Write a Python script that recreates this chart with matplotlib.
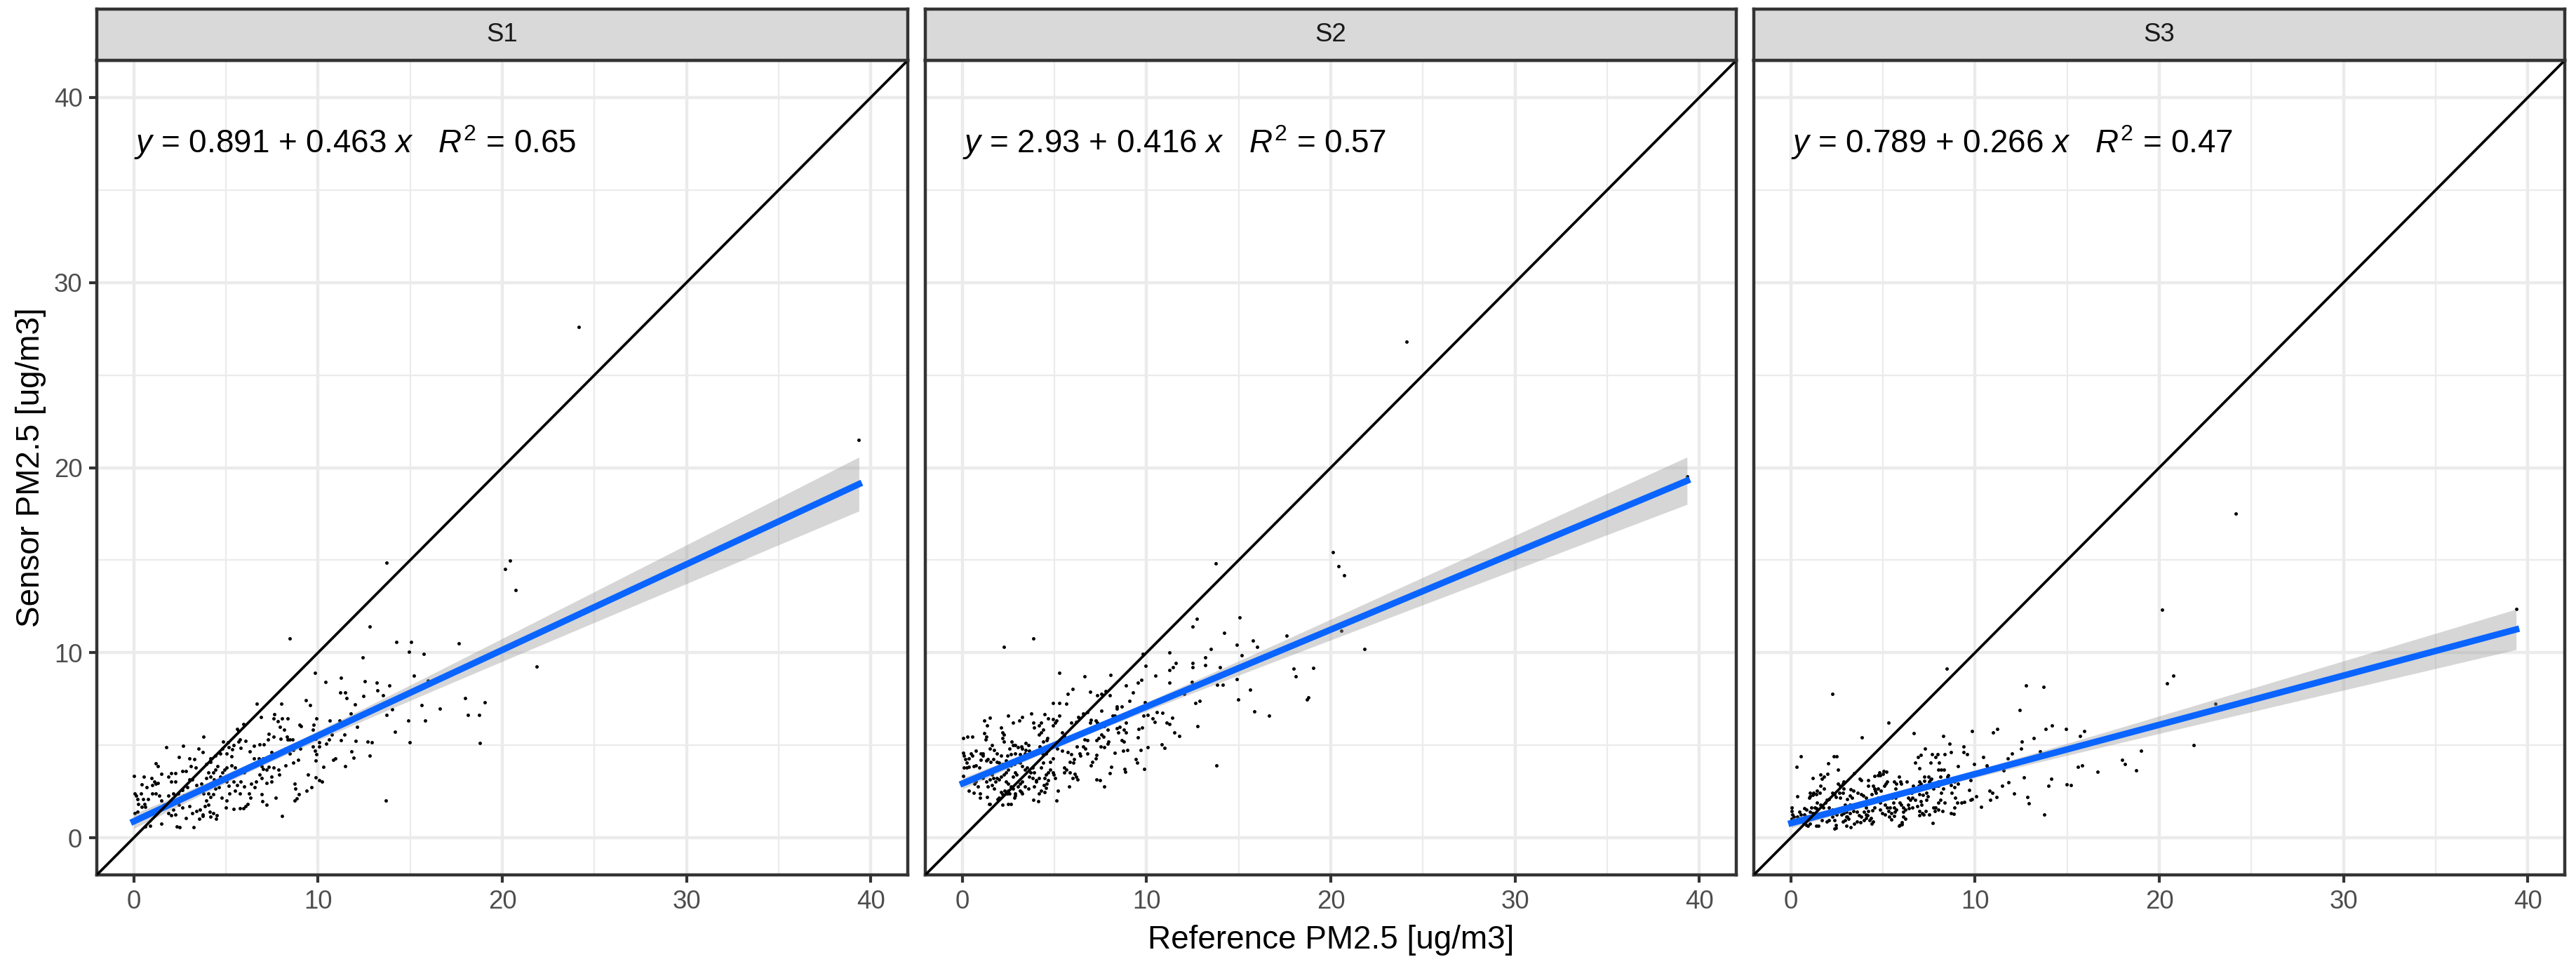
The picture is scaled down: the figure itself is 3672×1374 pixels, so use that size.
import matplotlib.pyplot as plt
import numpy as np

plt.rcParams['font.family'] = ['Liberation Sans', 'DejaVu Sans']
plt.rcParams['mathtext.fontset'] = 'custom'
plt.rcParams['mathtext.rm'] = 'Liberation Sans'
plt.rcParams['mathtext.it'] = 'Liberation Sans:italic'

sensors = ['S1', 'S2', 'S3']
intercepts = ['0.891', '2.93', '0.789']
slopes = ['0.463', '0.416', '0.266']
r_squared = ['0.65', '0.57', '0.47']

# (reference, sensor) pairs
s1_points = [
    (8.48, 10.76), (9.84, 8.92), (10.42, 8.43), (11.23, 8.65), (11.2, 7.84), (11.48, 7.84), (11.56, 7.56),
    (12.44, 9.73), (12.53, 8.46), (13.19, 8.4), (13.22, 7.95), (12.48, 7.66), (11.99, 7.2), (6.67, 7.25),
    (8.01, 7.25), (9.33, 7.44), (9.56, 7.16), (6.9, 6.54), (7.62, 6.69), (7.59, 6.45), (7.82, 6.29),
    (8.06, 6.45), (8.35, 6.45), (7.94, 5.99), (8.16, 5.84), (8.99, 6.12), (9.09, 6.04), (9.91, 6.45),
    (9.75, 6.12), (9.72, 5.86), (10.63, 6.35), (11.18, 6.35), (11.77, 6.73), (12.11, 5.99), (11.43, 5.57),
    (11.24, 5.29), (12.03, 5.23), (12.68, 5.19), (12.91, 5.15), (10.76, 5.57), (10.58, 5.33), (10.44, 5.08),
    (10.82, 4.21), (10.95, 4.28), (11.81, 4.67), (11.94, 4.34), (11.47, 3.88), (12.82, 4.44), (10.29, 3.83),
    (9.86, 3.27), (10.05, 3.12), (10.23, 3.05), (9.65, 2.75), (9.37, 2.56), (8.03, 1.17), (8.73, 2.03),
    (8.86, 2.13), (8.96, 2.35), (8.73, 2.94), (8.77, 2.66), (9.47, 3.43), (9.9, 4.53), (9.82, 4.7),
    (9.72, 4.92), (10.06, 4.95), (9.87, 4.19), (9.89, 5.36), (10.06, 5.15),
    (7.34, 5.61), (7.3, 5.33), (7.59, 5.46), (7.97, 5.36), (8.34, 5.33), (8.48, 5.33), (8.61, 5.33),
    (8.33, 5.46), (7.04, 5.04), (6.52, 4.99), (6.84, 5.05), (6.08, 5.25), (5.67, 5.2), (5.76, 5.33),
    (5.42, 5.0), (5.35, 4.78), (5.15, 4.9), (5.06, 4.56), (5.29, 4.39), (5.8, 4.85), (6.3, 4.67),
    (6.52, 4.31), (6.8, 4.31), (7.03, 4.31), (7.47, 4.63), (8.23, 4.82), (8.67, 4.76), (9.03, 4.82),
    (8.48, 4.54), (8.92, 4.21), (8.65, 4.06), (8.23, 3.93), (7.85, 3.68), (7.59, 3.78), (7.34, 3.83),
    (6.96, 3.87), (7.03, 3.74), (7.22, 3.68), (7.91, 3.43), (7.47, 3.3), (7.47, 3.05), (7.22, 2.98),
    (6.96, 3.24), (6.84, 3.43), (6.65, 3.05), (6.39, 2.92), (6.58, 2.73), (6.16, 3.68), (6.01, 3.53),
    (5.7, 3.55), (5.51, 3.81), (5.32, 3.93), (5.06, 3.81), (4.94, 3.68), (4.81, 3.55), (4.68, 3.3),
    (5.06, 3.05), (5.16, 2.83), (5.44, 3.05), (5.63, 2.86), (5.82, 3.05), (6.01, 2.79), (5.76, 2.41),
    (5.51, 2.54), (5.19, 2.41), (5.04, 2.03), (4.78, 2.16), (5.0, 1.65), (5.44, 1.55), (5.76, 1.59),
    (5.95, 1.59), (6.08, 1.71), (6.2, 1.84), (7.0, 1.97), (7.22, 1.78), (7.72, 2.16), (6.96, 2.35),
    (6.33, 2.16), (6.27, 2.41),
    (0.0, 3.36), (0.54, 3.3), (0.42, 2.89), (0.06, 2.41), (0.13, 2.28), (0.19, 2.09), (0.51, 2.09),
    (0.76, 2.09), (0.25, 1.84), (0.57, 1.84), (0.63, 1.68), (0.42, 1.68), (0.06, 1.33), (0.19, 1.4),
    (0.63, 0.63), (0.89, 0.66), (1.2, 4.04), (1.33, 3.87), (1.77, 4.91), (2.68, 4.99), (1.01, 2.86),
    (1.2, 2.94), (1.33, 2.98), (0.99, 2.41), (1.2, 2.41), (1.39, 2.28), (1.52, 2.03), (1.65, 1.78),
    (1.9, 2.28), (2.15, 2.41), (2.03, 3.05), (2.28, 3.05), (2.03, 3.49), (2.28, 3.49), (1.52, 3.45),
    (1.9, 3.3), (2.66, 3.62), (2.85, 3.62), (2.47, 4.38), (3.04, 4.31), (3.29, 4.25), (3.52, 4.82),
    (3.73, 4.63), (3.8, 5.46), (3.1, 3.87), (3.35, 3.81), (3.04, 3.17), (3.16, 3.17), (3.42, 2.86),
    (3.67, 2.92), (2.66, 2.6), (2.91, 2.73), (2.41, 2.41), (2.72, 2.28), (2.47, 1.78), (2.66, 1.65),
    (3.04, 1.71), (3.16, 1.33), (2.15, 1.52), (2.28, 1.27), (1.9, 1.33), (2.03, 1.21), (1.52, 0.76),
    (2.34, 0.63), (2.51, 0.57), (3.25, 0.57), (2.85, 1.08), (3.42, 1.46), (3.61, 1.52), (3.73, 1.27),
    (3.86, 1.71), (4.05, 1.78), (3.92, 2.03), (4.18, 2.22), (3.8, 2.41), (4.05, 2.41), (4.3, 2.35),
    (4.43, 2.66), (4.62, 2.73), (4.24, 2.92), (4.43, 2.98), (3.92, 3.24), (4.18, 3.3), (4.37, 3.17),
    (4.05, 3.55), (4.3, 3.55), (4.43, 3.68), (4.56, 3.87), (3.92, 4.0), (4.18, 4.12), (4.43, 4.44),
    (4.68, 4.57), (4.18, 4.31), (4.87, 5.2), (5.13, 5.18), (5.63, 5.9), (5.7, 5.77), (5.97, 6.15),
    (4.81, 4.82), (4.49, 1.21), (4.47, 1.05), (4.18, 1.14), (4.11, 1.4), (4.3, 1.33), (3.54, 1.02),
    (3.73, 1.18), (0.95, 3.24), (1.14, 3.05), (0.7, 2.73), (0.38, 2.41),
    (13.72, 14.88), (20.14, 14.54), (20.41, 14.97), (20.73, 13.39), (12.79, 11.42), (14.24, 10.57),
    (15.04, 10.57), (14.95, 10.07), (15.73, 9.93), (17.65, 10.5), (21.86, 9.27), (13.87, 8.25),
    (13.53, 7.72), (15.22, 8.75), (15.96, 8.5), (17.99, 7.55), (19.05, 7.32), (15.64, 7.17),
    (16.62, 6.98), (18.12, 6.65), (18.74, 6.65), (14.9, 6.33), (15.83, 6.33), (13.72, 6.65),
    (14.02, 6.94), (14.16, 5.72), (14.99, 5.18), (18.79, 5.11), (13.7, 2.0), (24.15, 27.58),
    (39.35, 21.48),
]

s2_points = [
    (2.28, 10.33), (3.86, 10.76), (5.28, 8.93), (6.64, 8.71), (8.04, 8.79), (5.98, 8.05), (5.73, 7.77),
    (6.93, 7.89), (4.91, 7.3), (5.26, 7.3), (5.66, 7.23), (7.31, 7.72), (7.56, 7.77), (7.79, 7.92),
    (8.0, 7.72), (8.89, 8.22), (9.27, 7.84), (9.52, 8.4), (9.71, 8.54), (9.96, 9.3), (9.81, 9.94),
    (10.47, 8.76), (11.23, 10.0), (11.23, 9.07), (11.42, 9.2), (11.58, 9.45), (11.23, 8.38), (12.52, 9.44),
    (12.5, 9.2), (13.18, 9.75), (13.18, 9.35), (13.5, 10.19), (14.2, 11.07), (14.89, 10.43), (15.17, 9.86),
    (13.98, 9.2), (13.82, 8.27), (14.13, 8.27), (14.89, 8.59), (14.99, 7.49), (12.65, 7.3), (12.9, 7.39),
    (12.47, 8.43), (12.78, 6.03), (13.78, 3.92), (12.05, 7.77), (11.39, 6.5), (11.1, 6.22), (11.23, 6.15),
    (11.52, 5.71), (11.77, 5.52), (10.82, 5.05), (10.97, 4.86), (10.57, 6.79), (10.85, 6.76), (10.34, 6.45),
    (10.43, 6.28), (10.05, 6.64), (9.84, 6.6), (9.92, 7.34), (10.05, 4.89), (9.86, 3.72), (9.67, 4.76),
    (9.54, 5.42), (9.58, 5.9), (9.77, 5.96), (9.43, 4.25), (9.49, 4.06), (9.08, 7.4), (8.66, 7.1),
    (8.41, 7.08), (8.38, 6.98), (8.15, 6.6), (8.27, 6.6), (8.86, 6.6), (8.89, 6.22), (8.76, 5.84),
    (8.88, 5.71), (8.55, 5.99), (8.67, 5.29), (8.76, 5.2), (8.95, 4.76), (8.72, 4.7), (8.28, 4.59),
    (8.1, 3.83), (8.0, 3.49), (8.8, 3.74), (8.86, 3.59), (8.45, 5.71), (8.38, 5.93), (7.88, 5.84),
    (7.69, 6.03), (7.56, 5.58), (7.66, 5.48), (7.41, 5.39), (7.28, 5.27), (7.94, 5.2), (7.88, 5.08),
    (7.69, 4.89), (7.5, 4.92), (7.28, 4.47), (7.25, 4.31), (7.05, 4.12), (6.99, 3.93), (7.28, 3.17),
    (7.46, 3.11), (7.71, 2.79), (6.8, 4.57), (6.67, 4.82), (6.36, 4.57), (6.4, 4.44), (6.55, 4.95),
    (6.23, 4.95), (6.11, 5.46), (6.23, 5.58), (6.65, 5.3), (6.8, 5.27), (7.24, 6.35), (7.33, 6.22),
    (6.99, 6.37), (6.93, 6.22), (6.55, 6.73), (6.78, 6.79), (7.56, 6.88), (6.3, 6.54), (6.17, 6.28),
    (5.92, 6.22), (5.41, 5.71), (5.54, 5.52), (5.66, 5.33), (5.92, 5.46), (5.41, 5.2), (5.28, 5.1),
    (5.16, 4.82), (5.41, 4.7), (5.73, 4.63), (5.92, 4.5), (6.07, 4.25), (5.85, 4.12), (6.02, 4.06),
    (5.54, 3.81), (5.66, 3.68), (5.85, 3.55), (5.54, 3.55), (6.11, 3.45), (6.2, 3.3), (5.98, 3.24),
    (6.27, 3.17), (5.81, 2.77), (5.2, 2.56), (5.12, 2.03), (4.91, 3.55), (4.97, 3.43), (5.03, 3.24),
    (4.78, 3.68), (4.65, 3.55), (4.53, 3.43), (4.46, 3.24), (4.65, 3.11), (4.59, 2.92), (4.42, 2.86),
    (4.53, 2.69), (4.27, 2.54), (4.15, 2.41), (4.46, 2.47), (4.12, 1.97), (3.86, 2.06), (3.89, 2.79),
    (4.02, 3.05), (4.15, 3.24), (3.89, 3.55), (3.83, 3.81), (4.27, 3.81), (4.4, 4.06), (4.78, 4.12),
    (4.91, 4.31), (4.53, 4.57), (4.34, 4.57), (4.15, 4.7), (4.21, 4.95), (4.65, 4.82), (4.91, 5.08),
    (4.4, 5.2), (4.59, 5.27), (4.15, 5.58), (4.27, 5.71), (4.4, 5.84), (4.61, 5.39), (4.91, 6.41),
    (5.1, 6.35), (5.28, 6.6), (4.91, 6.09), (5.03, 6.22), (4.46, 6.66), (4.65, 6.47), (4.27, 6.22),
    (4.15, 6.09), (3.86, 6.22), (3.89, 5.96), (3.73, 6.73), (3.26, 6.54), (3.11, 6.32), (2.76, 6.22),
    (2.69, 5.2), (2.76, 5.01), (2.88, 5.01), (2.5, 6.6), (2.12, 5.96), (2.19, 5.71), (2.25, 5.58),
    (2.19, 5.39), (2.25, 5.2), (2.57, 4.82), (3.01, 4.89), (3.2, 4.92), (3.45, 5.14), (3.58, 5.01),
    (3.26, 4.82), (3.45, 4.76), (3.64, 4.7), (3.79, 4.57), (3.39, 4.57), (3.58, 4.44), (3.14, 4.5),
    (2.88, 4.57), (2.63, 4.5), (2.44, 4.44), (1.74, 4.76), (1.87, 4.57), (2.12, 4.44), (1.62, 5.01),
    (1.49, 4.82), (0.99, 4.57), (1.11, 4.44), (1.3, 4.19), (1.37, 4.25), (1.55, 4.12), (1.68, 4.25),
    (1.87, 4.12), (2.0, 4.06), (2.19, 4.0), (2.38, 4.19), (2.5, 4.06), (2.63, 3.93), (2.82, 4.0),
    (3.01, 4.12), (3.14, 4.06), (3.26, 3.87), (3.39, 3.68), (3.51, 3.81), (3.7, 3.55), (3.64, 3.3),
    (3.83, 3.24), (4.02, 3.11), (3.26, 3.05), (3.14, 2.92), (3.01, 2.79), (3.39, 2.79), (3.58, 2.66),
    (2.88, 3.55), (2.95, 3.43), (2.76, 3.3), (2.5, 3.68), (2.38, 3.55), (2.25, 3.43), (2.12, 3.3),
    (2.0, 3.17), (1.87, 3.24), (2.38, 3.05), (2.5, 2.92), (2.63, 2.79), (2.76, 2.66), (2.88, 2.41),
    (2.5, 2.54), (2.38, 2.41), (2.31, 2.54), (2.12, 2.47), (2.19, 2.35), (2.63, 1.84), (2.5, 1.81),
    (2.0, 2.16), (1.93, 2.09), (2.84, 2.16), (2.88, 2.28), (3.14, 2.54), (3.2, 2.47), (3.26, 2.41),
    (1.49, 1.83), (1.81, 3.05), (1.68, 3.24), (1.62, 3.43), (1.37, 3.55), (1.24, 3.43), (1.11, 3.24),
    (0.92, 3.81), (0.73, 3.93), (0.61, 3.87), (0.35, 3.83), (0.23, 3.81), (0.1, 3.81), (0.04, 4.59),
    (0.08, 4.44), (0.16, 4.25), (0.23, 4.06), (0.35, 4.31), (0.54, 4.44), (0.04, 5.38), (0.27, 5.46),
    (0.54, 5.46), (1.2, 6.35), (1.49, 6.5), (1.34, 6.09), (1.2, 5.65), (1.3, 5.46), (1.26, 5.33),
    (1.11, 4.57), (0.99, 4.21), (0.73, 4.7), (0.48, 4.57), (0.04, 3.36), (0.73, 3.05), (0.67, 2.92),
    (0.86, 2.79), (0.35, 2.54), (0.63, 2.44), (0.96, 2.41), (1.3, 3.05), (1.49, 3.17), (1.37, 2.79),
    (1.62, 2.86), (1.74, 2.66), (1.47, 1.84), (0.96, 2.16), (1.34, 2.22), (2.44, 2.41), (2.19, 1.8),
    (2.57, 2.41),
    (13.74, 14.82), (20.1, 15.43), (20.43, 14.67), (20.71, 14.17), (12.74, 11.83), (12.49, 11.41),
    (15.05, 11.92), (17.62, 10.91), (15.76, 10.66), (15.99, 10.3), (20.56, 11.17), (21.82, 10.22),
    (15.61, 8.01), (15.86, 6.84), (16.64, 6.61), (18.0, 9.13), (18.08, 8.71), (19.04, 9.17),
    (18.78, 7.59), (18.71, 7.47), (24.1, 26.8), (39.33, 19.54),
]

s3_points = [
    (8.48, 9.13), (2.28, 7.79), (5.32, 6.23), (12.78, 8.24), (13.71, 8.17), (12.44, 6.9), (3.86, 5.43),
    (6.66, 5.66), (8.27, 5.52), (9.84, 5.76), (10.97, 5.71), (11.2, 5.9), (13.84, 5.9), (14.18, 6.09),
    (14.92, 5.9), (15.94, 5.76), (15.71, 5.5), (13.2, 5.38), (12.54, 5.19), (12.5, 4.82), (13.53, 4.68),
    (12.0, 4.54), (11.78, 4.31), (10.46, 4.36), (9.94, 3.98), (9.06, 3.88), (10.63, 3.91), (10.67, 3.79),
    (11.56, 3.65), (11.81, 3.02), (11.47, 2.82), (12.13, 2.38), (12.65, 3.28), (14.13, 3.18), (14.0, 2.82),
    (14.97, 2.9), (15.2, 2.85), (15.58, 3.85), (15.81, 3.93), (12.84, 2.21), (12.92, 1.87), (13.76, 1.26),
    (10.78, 2.53), (10.96, 2.42), (11.18, 2.2), (10.84, 2.05), (10.32, 1.68), (10.08, 2.25), (9.85, 2.09),
    (9.78, 2.06), (9.43, 1.93), (9.28, 1.91), (9.68, 2.6), (9.78, 3.12), (9.38, 4.94), (9.37, 4.64),
    (9.56, 4.52), (8.71, 4.64), (8.63, 5.1), (8.34, 4.52), (8.16, 3.69), (8.33, 3.69), (8.0, 3.69),
    (7.84, 4.38), (7.96, 4.53), (7.66, 4.53), (7.59, 4.05), (8.05, 4.05), (8.56, 3.37), (8.49, 3.31),
    (8.14, 3.31), (7.28, 4.83), (7.04, 4.48), (6.9, 4.38), (6.77, 4.07), (6.97, 3.75), (7.46, 3.31),
    (7.59, 3.14), (7.25, 3.08), (8.01, 2.8), (8.29, 2.67), (8.16, 2.42), (8.71, 2.84), (8.87, 2.74),
    (8.75, 2.42), (8.94, 2.16), (9.03, 1.91), (8.9, 1.65), (8.71, 1.34), (8.84, 1.31), (8.35, 1.91),
    (8.24, 1.45), (7.85, 1.65), (8.01, 1.54), (7.72, 0.8), (7.51, 1.27), (7.23, 1.25), (7.0, 1.21),
    (7.09, 1.78), (6.87, 1.72), (7.06, 1.97), (7.38, 2.04), (7.44, 2.23), (6.43, 2.54), (6.56, 2.42),
    (6.87, 2.61), (6.65, 2.8), (7.0, 3.05), (7.25, 3.31), (5.96, 3.05), (5.99, 2.93), (6.3, 3.05),
    (5.63, 3.05), (5.71, 2.93), (5.86, 3.31), (5.7, 2.65), (5.81, 2.35), (6.37, 2.16), (6.49, 2.04),
    (6.62, 1.65), (6.43, 1.59), (6.37, 1.78), (6.11, 1.65), (6.24, 1.53), (6.11, 1.4), (5.91, 1.91),
    (5.99, 1.78), (5.56, 1.91), (5.67, 2.16), (5.48, 2.16), (5.61, 1.65), (5.73, 1.53), (5.66, 1.4),
    (5.38, 1.65), (5.3, 1.46), (5.46, 0.98), (5.61, 1.17), (6.04, 0.74), (5.86, 0.64), (5.08, 2.8),
    (5.16, 2.93), (5.23, 3.05), (4.89, 2.54), (4.72, 2.67), (4.59, 2.54), (4.47, 2.8), (5.0, 3.44),
    (5.2, 3.56), (4.85, 3.4), (4.53, 3.35), (4.72, 3.38), (4.81, 3.54), (5.06, 3.6), (4.22, 3.13),
    (4.22, 2.8), (3.94, 2.29), (4.09, 2.16), (3.84, 2.35), (3.65, 2.42), (4.53, 2.67), (4.62, 2.42),
    (4.41, 2.35), (4.72, 2.16), (4.85, 1.91), (4.59, 2.04), (4.97, 2.04), (5.1, 1.78), (5.23, 1.65),
    (4.85, 1.53), (4.97, 1.34), (5.1, 1.27), (4.53, 1.65), (4.44, 1.49), (4.22, 1.46), (4.09, 1.65),
    (3.96, 1.78), (3.84, 1.91), (3.65, 1.84), (3.52, 1.78), (3.33, 1.65), (3.39, 1.46), (3.2, 1.34),
    (3.58, 1.4), (3.71, 1.21), (3.84, 1.15), (4.15, 1.21), (4.34, 1.08), (4.47, 0.89), (3.96, 0.95),
    (3.77, 0.83), (3.27, 0.57), (3.46, 0.76), (3.58, 0.89), (3.08, 1.15), (2.95, 0.95), (2.82, 0.89),
    (3.01, 1.4), (2.89, 1.34), (2.76, 1.27), (2.82, 1.65), (2.95, 1.78), (3.2, 1.78), (3.33, 2.16),
    (3.2, 2.29), (3.08, 2.1), (2.82, 2.42), (2.7, 2.16), (2.63, 2.42), (2.89, 2.67), (2.82, 2.93),
    (3.42, 2.54), (3.27, 2.61), (3.75, 3.18), (3.84, 3.12), (3.43, 3.5), (2.89, 3.05), (2.57, 3.69),
    (2.35, 4.41), (2.51, 4.41), (2.04, 4.03), (1.62, 3.41), (1.71, 3.18), (1.18, 3.24), (0.54, 4.41),
    (0.32, 3.84), (0.37, 2.25), (2.25, 2.42), (2.38, 2.35), (2.44, 2.21), (2.06, 2.1), (1.94, 2.04),
    (1.87, 1.91), (1.43, 2.54), (1.56, 2.42), (1.37, 2.35), (1.18, 2.32), (1.05, 2.23), (0.99, 2.16),
    (1.43, 1.91), (1.62, 1.78), (1.75, 1.65), (1.3, 1.65), (1.37, 1.59), (1.11, 1.65), (2.06, 1.65),
    (2.25, 1.53), (2.38, 1.34), (2.51, 1.27), (2.25, 1.15), (2.38, 0.95), (2.44, 0.7), (2.47, 0.53),
    (2.06, 0.95), (1.94, 0.89), (1.68, 0.95), (1.49, 0.64), (1.37, 0.64), (1.05, 0.76), (0.92, 0.64),
    (0.86, 0.7), (0.67, 0.83), (0.65, 1.02), (0.54, 1.27), (0.48, 1.4), (0.73, 1.27), (0.06, 1.65),
    (0.06, 1.46), (0.1, 1.27), (0.16, 1.15), (0.04, 1.02), (0.35, 1.15), (0.52, 1.02), (0.8, 1.15),
    (0.92, 1.02), (1.05, 1.15), (1.05, 1.4), (1.18, 1.34), (0.86, 1.53), (0.73, 1.59), (1.81, 3.31),
    (2.0, 3.44), (2.57, 2.93), (2.7, 2.8), (1.62, 2.8), (1.81, 2.67), (1.05, 2.42), (1.24, 2.42),
    (2.38, 0.51), (3.01, 0.64), (3.01, 1.15), (3.14, 1.02), (4.09, 1.08), (4.28, 0.95), (4.41, 0.76),
    (3.96, 1.4), (4.09, 1.27), (5.46, 1.34), (5.35, 1.15), (6.11, 1.15), (6.24, 1.02), (5.92, 0.7),
    (6.05, 0.83), (7.0, 1.46), (7.13, 1.34), (7.32, 1.46), (7.76, 1.65), (7.82, 1.46), (8.01, 1.91),
    (8.11, 2.04), (6.62, 2.16), (6.75, 2.04), (7.0, 2.35), (7.19, 2.32), (7.38, 2.42), (7.76, 2.67),
    (7.89, 2.8), (6.94, 2.8), (7.06, 2.93), (7.51, 3.05), (7.63, 3.18), (8.01, 3.05), (8.14, 2.93),
    (8.9, 3.05), (9.09, 2.93),
    (24.16, 17.52), (20.15, 12.33), (20.43, 8.36), (20.76, 8.78), (23.04, 7.25), (21.87, 5.01),
    (19.02, 4.72), (17.99, 4.21), (18.14, 3.98), (18.74, 3.65), (16.65, 3.56), (39.36, 12.38),
]

all_points = [s1_points, s2_points, s3_points]

W, H = 3672, 1374
fig = plt.figure(figsize=(W / 300, H / 300), dpi=300)

# layout in pixels
panel_left = [138, 1319, 2500]
panel_w = 1156
panel_top, panel_bot = 86, 1247
strip_top = 13

for i in range(3):
    pts = np.array(all_points[i])
    x, y = pts[:, 0], pts[:, 1]
    a, b = float(intercepts[i]), float(slopes[i])

    ax = fig.add_axes([panel_left[i] / W, 1 - panel_bot / H, panel_w / W, (panel_bot - panel_top) / H])
    ax.set_xlim(-2, 42)
    ax.set_ylim(-2, 42)
    ax.set_xticks([0, 10, 20, 30, 40])
    ax.set_yticks([0, 10, 20, 30, 40])
    ax.set_xticks([5, 15, 25, 35], minor=True)
    ax.set_yticks([5, 15, 25, 35], minor=True)
    ax.grid(which='major', color='#EBEBEB', lw=1.07)
    ax.grid(which='minor', color='#EBEBEB', lw=0.53)
    ax.set_axisbelow(True)
    ax.tick_params(which='minor', length=0)
    ax.tick_params(which='major', length=2.75, width=1.0, color='#333333',
                   labelsize=8.8, labelcolor='#4D4D4D', pad=2.2)
    if i > 0:
        ax.tick_params(axis='y', left=False, labelleft=False)
    for sp in ax.spines.values():
        sp.set_color('#333333')
        sp.set_linewidth(1.07)

    ax.scatter(x, y, s=1.4, c='black', linewidths=0, zorder=2)

    # lm fit with 95% confidence band
    xs = np.linspace(x.min(), x.max(), 100)
    fit = a + b * xs
    n = len(x)
    resid = y - (a + b * x)
    s = np.sqrt(np.sum(resid ** 2) / (n - 2))
    sxx = np.sum((x - x.mean()) ** 2)
    half = 1.97 * s * np.sqrt(1 / n + (xs - x.mean()) ** 2 / sxx)
    ax.fill_between(xs, fit - half, fit + half, color='#999999', alpha=0.4, lw=0, zorder=3)
    ax.plot(xs, fit, color='#0A64FF', lw=2.2, zorder=4)

    ax.plot([-2, 42], [-2, 42], color='black', lw=0.9, zorder=5)

    label = f"$y$ = {intercepts[i]} + {slopes[i]} $x$   $R^2$ = {r_squared[i]}"
    ax.text(0, 37.0, label, fontsize=11, ha='left', va='baseline', zorder=6)

    # facet strip
    st = fig.add_axes([panel_left[i] / W, 1 - panel_top / H, panel_w / W, (panel_top - strip_top) / H])
    st.set_facecolor('#D9D9D9')
    st.set_xticks([])
    st.set_yticks([])
    for sp in st.spines.values():
        sp.set_color('#333333')
        sp.set_linewidth(1.07)
    st.text(0.5, 0.5, sensors[i], fontsize=8.8, color='#1A1A1A', ha='center', va='center',
            transform=st.transAxes)

fig.text(1897 / W, 1 - 1352 / H, 'Reference PM2.5 [ug/m3]', ha='center', va='baseline', fontsize=11)
fig.text(21.5 / W, 1 - 666.5 / H, 'Sensor PM2.5 [ug/m3]', rotation=90, ha='left', va='center', fontsize=11)

fig.savefig('out.png', dpi=300)
